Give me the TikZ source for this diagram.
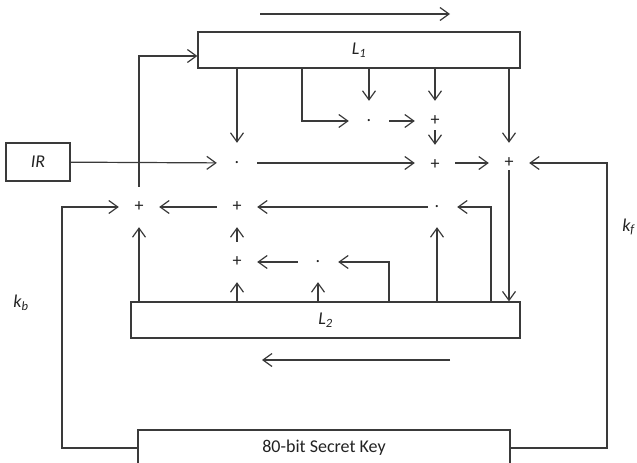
\documentclass[tikz,border=0pt]{standalone}
\usepackage{fontspec}
\setmainfont{Carlito}
\usepackage{tikz}
\usetikzlibrary{arrows.meta, positioning}
\definecolor{trait}{HTML}{3A3A3A}
\definecolor{texte}{HTML}{222222}

\begin{document}
\begin{tikzpicture}[x=1pt, y=-1pt,
    fl/.style={draw=trait, line width=1.2pt, -{Straight Barb[length=9pt, width=13pt]}},
    reg/.style={draw=trait, line width=1.2pt, rectangle, inner sep=0pt, text=texte,
                font=\fontsize{18}{21}\selectfont\itshape},
    jn/.style={circle, inner sep=0pt, minimum size=40pt, text=texte,
               font=\fontsize{18}{21}\selectfont}]
    \useasboundingbox (0,0) rectangle (637,463);
    % Registres
    \node[reg, minimum width=322pt, minimum height=36pt] (l1) at (359,50) {L\textsubscript{1}};
    \node[reg, minimum width=389pt, minimum height=36pt] (l2) at (325.5,320) {L\textsubscript{2}};
    \node[reg, minimum width=64pt, minimum height=38pt] (ir) at (38,162) {IR};
    \node[reg, minimum width=372pt, minimum height=36pt, font=\fontsize{18}{21}\selectfont] (sk) at (324,448) {80-bit Secret Key};
    % Portes : nom, x, y, symbole
    \foreach \n/\x/\y/\t in {mul1/237/163/., mul2/369/121/., add1/435/121/+, add2/435/165/+,
                            add3/509/163/+, add4/139/207/+, add5/237/207/+, mul3/437/207/.,
                            add6/237/262/+, mul4/318/262/.} {
      \node[jn] (\n) at (\x,\y) {\t};
    }
    % Points libres
    \coordinate (a1) at (302,68);
    \coordinate (b1) at (491,302);
    \coordinate (b2) at (389,302);
    \coordinate (lc) at (62,207);
    \coordinate (rc) at (607,163);
    \coordinate (t1) at (260,14);
    \coordinate (t2) at (450,14);
    \coordinate (u1) at (450,360);
    \coordinate (u2) at (262,360);
    % Sens de decalage
    \draw[fl] (t1) -- (t2);
    \draw[fl] (u1) -- (u2);
    % Entree et sorties de L1
    \draw[fl] (ir) -- (mul1);
    \draw[fl] (mul1 |- l1.south) -- (mul1);
    \draw[fl] (a1) |- (mul2);
    \draw[fl] (mul2 |- l1.south) -- (mul2);
    \draw[fl] (add1 |- l1.south) -- (add1);
    \draw[fl] (add3 |- l1.south) -- (add3);
    \draw[fl] (mul2) -- (add1);
    \draw[fl] (add1.center) ++(0,9) -- (add2);
    \draw[fl] (mul1) -- (add2.west |- mul1);
    \draw[fl] (add2.east |- add3) -- (add3);
    \draw[fl, shorten <=-13pt] (add3) -- (add3 |- l2.north);
    % Sorties de L2
    \draw[fl] (add5) -- (add4);
    \draw[fl, shorten <=-11pt] (mul3) -- (add5);
    \draw[fl] (b1) |- (mul3);
    \draw[fl] (mul3 |- l2.north) -- (mul3);
    \draw[fl] (add4) |- ([yshift=-6pt]l1.west);
    \draw[fl] (add4 |- l2.north) -- (add4);
    \draw[fl] (add6) -- (add5);
    \draw[fl] (add6 |- l2.north) -- (add6);
    \draw[fl] (mul4) -- (add6);
    \draw[fl] (mul4 |- l2.north) -- (mul4);
    \draw[fl] (b2) |- (mul4);
    % Cle
    \draw[fl] (sk.west) -| (lc) -- (add4);
    \draw[fl] (sk.east) -| (rc) -- (add3);
    \node[text=texte, font=\fontsize{18}{21}\selectfont\itshape] (kb) at (21,303) {k\textsubscript{b}};
    \node[text=texte, font=\fontsize{18}{21}\selectfont\itshape, anchor=east, inner sep=1pt] (kf) at (636,227) {k\textsubscript{f}};
  \end{tikzpicture}
\end{document}
